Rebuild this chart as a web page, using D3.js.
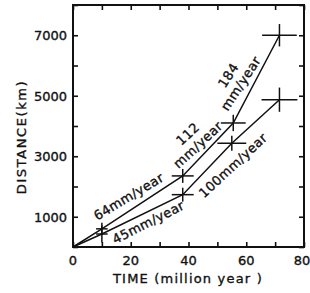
<!DOCTYPE html>
<html>
<head>
<meta charset="utf-8">
<script src="https://cdn.jsdelivr.net/npm/d3@7"></script>
<style>
  body { margin:0; background:#fff; }
  svg text { font-family:"DejaVu Sans", sans-serif; fill:#111; stroke:#111; stroke-width:0.35; }
</style>
</head>
<body>
<svg id="chart" width="310" height="293"></svg>
<script>
// time in million years, distance in km
var upperTime = [0, 10, 38, 55.5, 71.5]
  , upperDist = [0, 600, 2350, 4100, 7000]
  , upperTimeErr = [0, 2, 3.8, 4.3, 6]
  , upperDistErr = [0, 200, 230, 270, 370]
  , lowerTime = [0, 10, 38, 55, 71.5]
  , lowerDist = [0, 430, 1730, 3430, 4870]
  , lowerTimeErr = [0, 2, 3.8, 5, 6.2]
  , lowerDistErr = [0, 280, 230, 250, 400]
  , xTicks = [0, 10, 20, 30, 40, 50, 60, 70, 80]
  , xTickLabels = [0, 20, 40, 60, 80]
  , yTicks = [0, 1000, 2000, 3000, 4000, 5000, 6000, 7000, 8000]
  , yTickLabels = [1000, 3000, 5000, 7000]

// rate labels: [text lines, time, distance, angle]
var rateLabels = [
  [['64mm/year'], 19.2, 1680, -31]
  , [['45mm/year'], 26, 830, -27]
  , [['112', 'mm/year'], 41.4, 3570, -43]
  , [['184', 'mm/year'], 55.8, 5550, -57]
  , [['100mm/year'], 55.3, 2710, -43]
]

var margin = { top:5, right:6, bottom:46, left:73 }
  , W = 310, H = 293
  , w = W - margin.left - margin.right
  , h = H - margin.top - margin.bottom

var svg = d3.select('#chart')
var g = svg.append('g').attr('transform', 'translate(' + margin.left + ',' + margin.top + ')')

var x = d3.scaleLinear().domain([0, 80]).range([0, w])
var y = d3.scaleLinear().domain([0, 8000]).range([h, 0])

function tickAxis(axis, s, ticks) {
  return axis(s).tickValues(ticks).tickSize(-5).tickFormat('')
}

g.append('g').attr('transform', 'translate(0,' + h + ')').call(tickAxis(d3.axisBottom, x, xTicks))
g.append('g').call(tickAxis(d3.axisTop, x, xTicks))
g.append('g').call(tickAxis(d3.axisLeft, y, yTicks))
g.append('g').attr('transform', 'translate(' + w + ',0)').call(tickAxis(d3.axisRight, y, yTicks))
g.selectAll('.domain').remove()
g.selectAll('.tick line').attr('stroke', '#111').attr('stroke-width', 1.6)

g.append('rect')
  .attr('width', w).attr('height', h)
  .attr('fill', 'none').attr('stroke', '#111').attr('stroke-width', 2)

g.selectAll('text.xlab').data(xTickLabels).enter().append('text')
  .attr('class', 'xlab')
  .attr('x', function(d) { return Math.min(x(d), w - 2) })
  .attr('y', h + 18)
  .attr('text-anchor', 'middle')
  .attr('font-size', 13)
  .text(function(d) { return d })

g.selectAll('text.ylab').data(yTickLabels).enter().append('text')
  .attr('class', 'ylab')
  .attr('x', -6)
  .attr('y', function(d) { return y(d) + 5 })
  .attr('text-anchor', 'end')
  .attr('font-size', 13)
  .text(function(d) { return d })

svg.append('text')
  .attr('x', 188).attr('y', 283)
  .attr('text-anchor', 'middle')
  .attr('font-size', 13)
  .attr('letter-spacing', 1.2)
  .text('TIME (million year )')

svg.append('text')
  .attr('transform', 'translate(26,137) rotate(-90)')
  .attr('text-anchor', 'middle')
  .attr('font-size', 13)
  .attr('letter-spacing', 1.6)
  .text('DISTANCE(km)')

var line = d3.line().x(function(d) { return x(d[0]) }).y(function(d) { return y(d[1]) })

function drawSeries(ts, ds, te, de) {
  var pts = ts.map(function(t, i) { return [t, ds[i], te[i], de[i]] })
  g.append('path')
    .datum(pts)
    .attr('d', line)
    .attr('fill', 'none')
    .attr('stroke', '#111')
    .attr('stroke-width', 1.5)

  var cross = g.append('g').selectAll('g').data(pts.slice(1)).enter().append('g')
  cross.append('line')
    .attr('x1', function(d) { return x(d[0] - d[2]) })
    .attr('x2', function(d) { return x(d[0] + d[2]) })
    .attr('y1', function(d) { return y(d[1]) })
    .attr('y2', function(d) { return y(d[1]) })
  cross.append('line')
    .attr('x1', function(d) { return x(d[0]) })
    .attr('x2', function(d) { return x(d[0]) })
    .attr('y1', function(d) { return y(d[1] - d[3]) })
    .attr('y2', function(d) { return y(d[1] + d[3]) })
  cross.selectAll('line').attr('stroke', '#111').attr('stroke-width', 1.5)
}

drawSeries(upperTime, upperDist, upperTimeErr, upperDistErr)
drawSeries(lowerTime, lowerDist, lowerTimeErr, lowerDistErr)

rateLabels.forEach(function(r) {
  var t = g.append('text')
    .attr('transform', 'translate(' + x(r[1]) + ',' + y(r[2]) + ') rotate(' + r[3] + ')')
    .attr('text-anchor', 'middle')
    .attr('font-size', 13)
    .attr('letter-spacing', 0.4)
  r[0].forEach(function(s, i) {
    t.append('tspan')
      .attr('x', 0)
      .attr('y', (i - (r[0].length - 1) / 2) * 15 + 5)
      .text(s)
  })
})
</script>
</body>
</html>
